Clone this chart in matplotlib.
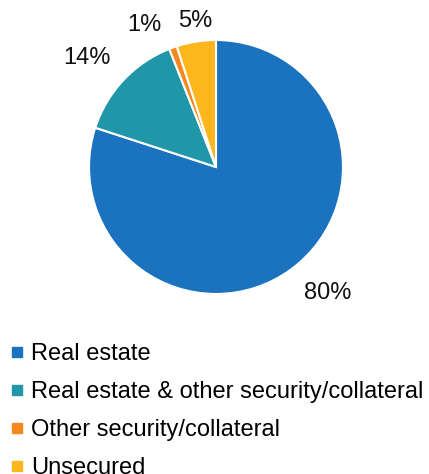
import numpy as np
import matplotlib.pyplot as plt
from matplotlib.lines import Line2D

# data
categories = ["Real estate", "Real estate & other security/collateral",
              "Other security/collateral", "Unsecured"]
shares = [80, 14, 1, 5]
colors = ["#1B72BE", "#1F97A8", "#F5891F", "#FDB61B"]

# label placement (angle in degrees, distance in radii)
label_angles = [-48.4, 140.0, 116.9, 98.0]
label_dists = [1.33, 1.33, 1.25, 1.16]

plt.rcParams['font.family'] = ['Liberation Sans', 'DejaVu Sans']

fig = plt.figure(figsize=(4.29, 4.74), dpi=100)
ax = fig.add_axes([0.5035 - 0.296, 0.6477 - 0.268, 0.592, 0.536])

wedges, texts, autotexts = ax.pie(
    shares, colors=colors, startangle=90, counterclock=False,
    autopct='%1.0f%%', pctdistance=1.28,
    wedgeprops=dict(edgecolor='white', linewidth=1.5),
    textprops=dict(fontsize=17, color='#111111'))
for t, a, d in zip(autotexts, label_angles, label_dists):
    t.set_position((d * np.cos(np.radians(a)), d * np.sin(np.radians(a))))
ax.set_aspect('equal')
ax.set_xlim(-1, 1)
ax.set_ylim(-1, 1)

handles = [Line2D([0], [0], marker='s', linestyle='', markersize=7,
                  markerfacecolor=c, markeredgecolor=c) for c in colors]
fig.legend(handles, categories, loc='upper left', bbox_to_anchor=(-0.01, 0.306),
           frameon=False, fontsize=17, handlelength=0.6, handletextpad=0.3,
           labelspacing=0.68, borderaxespad=0.2)

fig.savefig("out.png", dpi=100)
